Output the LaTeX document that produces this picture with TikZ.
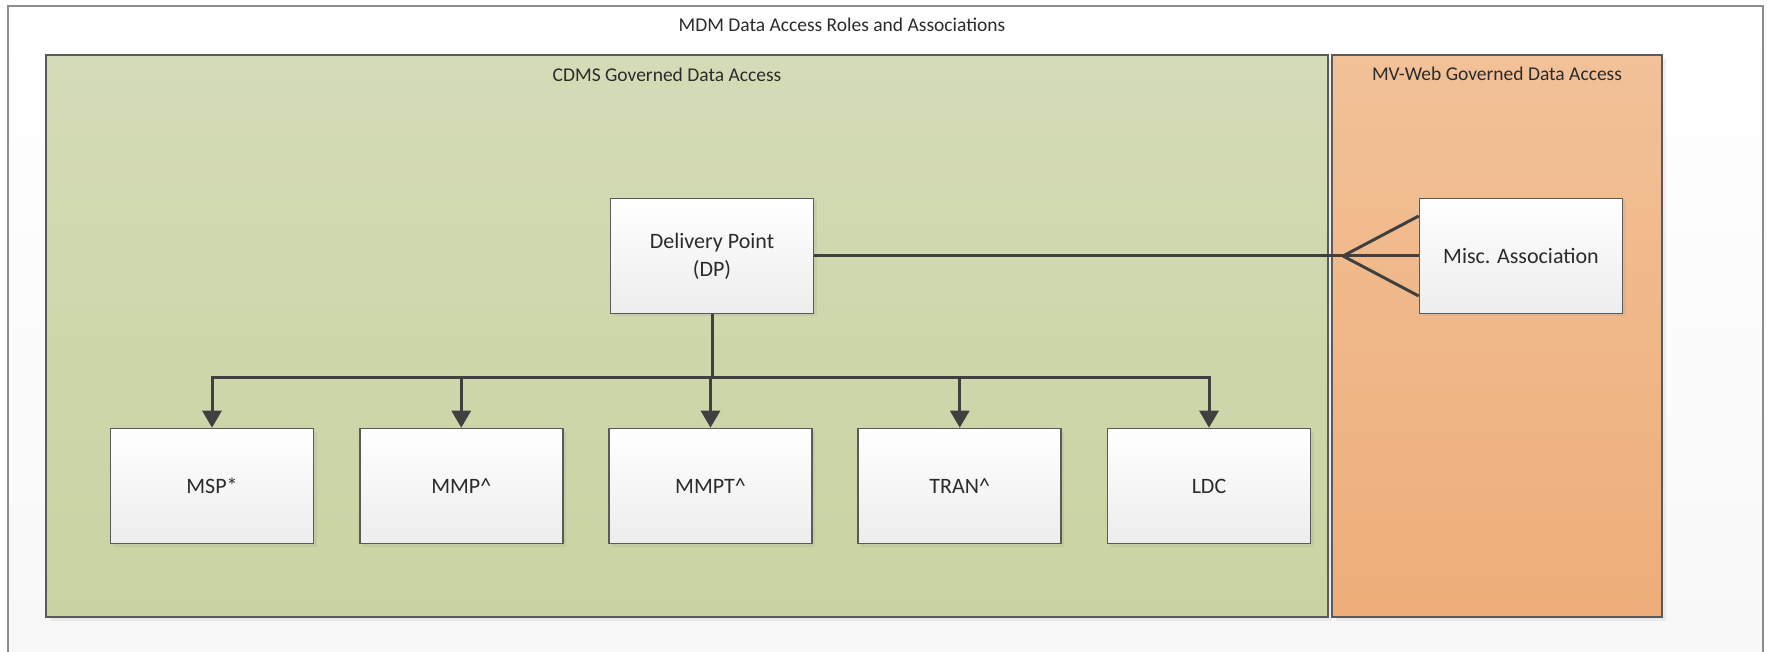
\documentclass[tikz,border=0pt]{standalone}
\usepackage{fontspec}
\setmainfont{Carlito}
\usetikzlibrary{arrows.meta,shadows}

\definecolor{linegray}{HTML}{404040}
\definecolor{edgegray}{HTML}{5A5A5A}
\definecolor{textgray}{HTML}{2B2B2B}
\definecolor{boxbot}{HTML}{EDEDED}
\definecolor{greentop}{HTML}{D4DBB7}
\definecolor{greenbot}{HTML}{C9D3A2}
\definecolor{orangetop}{HTML}{F2C198}
\definecolor{orangebot}{HTML}{EEAD79}

\begin{document}
\begin{tikzpicture}[x=1pt,y=-1pt,
    panel/.style={draw=edgegray,line width=1.8pt,
      drop shadow={opacity=0.12,shadow xshift=4pt,shadow yshift=-4pt}},
    box/.style={draw=edgegray,line width=1.6pt,top color=white,bottom color=boxbot,
      minimum width=203pt,minimum height=115pt,inner sep=0pt,align=center,
      text=textgray,font=\fontsize{22}{28}\selectfont,
      drop shadow={opacity=0.12,shadow xshift=3pt,shadow yshift=-3pt}},
    heading/.style={text=textgray,font=\fontsize{19.5}{24}\selectfont,inner sep=0pt},
    conn/.style={draw=linegray,line width=3pt},
    arr/.style={conn,-{Triangle[width=19pt,length=17pt]}}]
  \useasboundingbox (0,0) rectangle (1767,652);

  % outer frame
  \draw[draw=gray!90,line width=2pt,top color=white,bottom color=gray!6] (8,6) rectangle (1763,700);
  \node[heading] (maintitle) at (842,25) {MDM Data Access Roles and Associations};

  % governed areas
  \draw[panel,top color=greentop,bottom color=greenbot] (46,55) rectangle (1328,617);
  \node[heading] (cdmstitle) at (667,75) {CDMS Governed Data Access};
  \draw[panel,top color=orangetop,bottom color=orangebot] (1332,55) rectangle (1662,617);
  \node[heading] (mvwebtitle) at (1497,74) {MV-Web Governed Data Access};

  \node[box] (dp) at (712,256) {Delivery Point\\(DP)};
  \node[box] (misc) at (1521,256) {Misc. Association};

  % roles under the delivery point
  \foreach[count=\i,evaluate={212+(\i-1)*249.25} as \x] \n/\t in
      {msp/MSP*,mmp/MMP\textasciicircum,mmpt/MMPT\textasciicircum,tran/TRAN\textasciicircum,ldc/LDC} {
    \node[box] (\n) at (\x,486) {\t};
    \draw[arr] (dp.south) -- (dp.south |- 0,377) -| (\n.north);
  }

  % crow's foot to the association
  \coordinate (fork) at (1343,256);
  \draw[conn] (dp.east) -- (fork);
  \foreach \dy in {40,0,-40} {
    \draw[conn] (fork) -- ([yshift=\dy pt]misc.west);
  }
\end{tikzpicture}
\end{document}
